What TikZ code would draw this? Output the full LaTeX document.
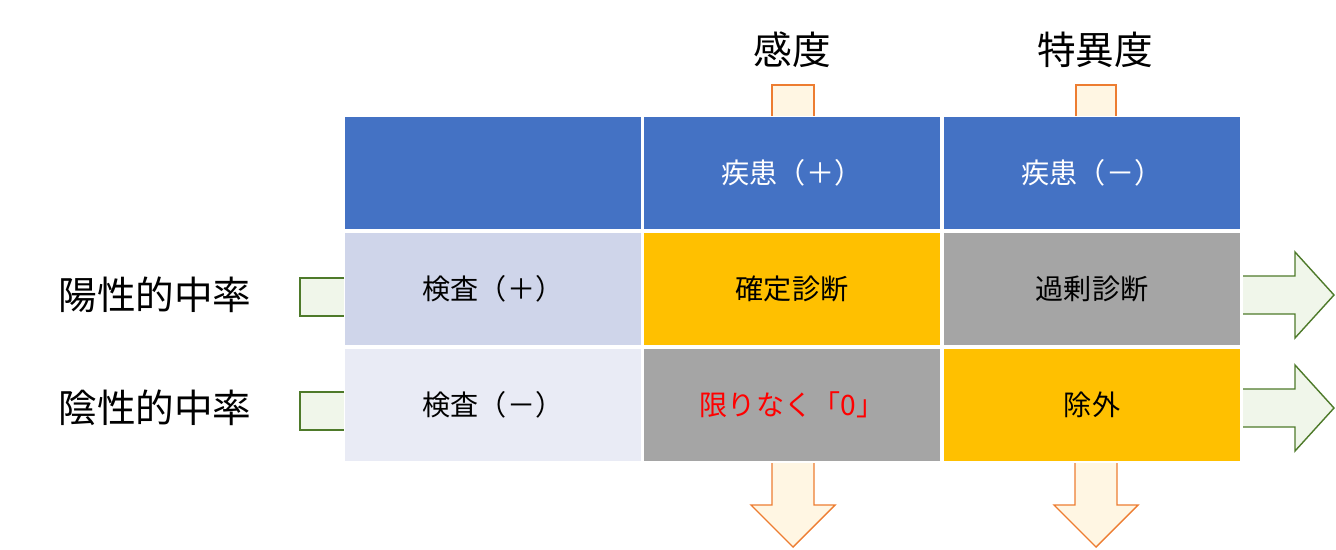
\documentclass[tikz,border=0pt]{standalone}
\usepackage{fontspec}
\newfontfamily\cjk{Noto Sans CJK JP}
\definecolor{hdblue}{HTML}{4472C4}
\definecolor{rowa}{HTML}{CFD5EA}
\definecolor{rowb}{HTML}{E9EBF5}
\definecolor{gold}{HTML}{FFC000}
\definecolor{midgray}{HTML}{A5A5A5}
\definecolor{arrfill}{HTML}{FFF6E3}
\definecolor{arrline}{HTML}{ED7D31}
\definecolor{grfill}{HTML}{F0F6EA}
\definecolor{grline}{HTML}{4E7A2A}
\tikzset{
  cell/.style={draw=white, line width=1.5pt, minimum width=5.98cm, minimum height=2.28cm, inner sep=0pt, font=\cjk\fontsize{16}{18}\selectfont},
  biglabel/.style={font=\cjk\fontsize{22}{24}\selectfont},
  orangearr/.style={draw=arrline, fill=arrfill, line width=0.8pt},
  greenarr/.style={draw=grline, fill=grfill, line width=0.8pt}
}
\begin{document}
\begin{tikzpicture}[x=0.02cm, y=-0.02cm]
    \useasboundingbox (0,0) rectangle (1336,549);

    % Table
    \node[cell, fill=hdblue] (h0) at (493,173) {};
    \node[cell, fill=hdblue, text=white] (h1) at (792,173) {疾患（＋）};
    \node[cell, fill=hdblue, text=white] (h2) at (1092,173) {疾患（－）};
    \node[cell, fill=rowa] (r1) at (493,289) {検査（＋）};
    \node[cell, fill=gold] (c11) at (792,289) {確定診断};
    \node[cell, fill=midgray] (c12) at (1092,289) {過剰診断};
    \node[cell, fill=rowb] (r2) at (493,405) {検査（－）};
    \node[cell, fill=midgray, text=red] (c21) at (792,405) {限りなく「0」};
    \node[cell, fill=gold] (c22) at (1092,405) {除外};

    % Top labels
    \node[biglabel] (sens) at (792,50) {感度};
    \node[biglabel] (spec) at (1095,50) {特異度};
    \draw[orangearr] (772,116) -- (772,85) -- (814,85) -- (814,116);
    \draw[orangearr] (1076,116) -- (1076,85) -- (1116,85) -- (1116,116);

    % Bottom arrows
    \foreach \cx in {793,1096}
        \draw[orangearr] (\cx-21,463) -- (\cx-21,505) -- (\cx-42,505) -- (\cx,547)
            -- (\cx+42,505) -- (\cx+21,505) -- (\cx+21,463);

    % Left labels
    \node[biglabel] (ppv) at (155,295) {陽性的中率};
    \node[biglabel] (npv) at (155,408) {陰性的中率};
    \foreach \cy in {297,411}
        \draw[greenarr] (344,\cy-19) -- (300,\cy-19) -- (300,\cy+19) -- (344,\cy+19);

    % Right arrows
    \foreach \cy in {295,408}
        \draw[greenarr] (1243,\cy-19) -- (1295,\cy-19) -- (1295,\cy-43) -- (1334,\cy)
            -- (1295,\cy+43) -- (1295,\cy+19) -- (1243,\cy+19);
\end{tikzpicture}
\end{document}
